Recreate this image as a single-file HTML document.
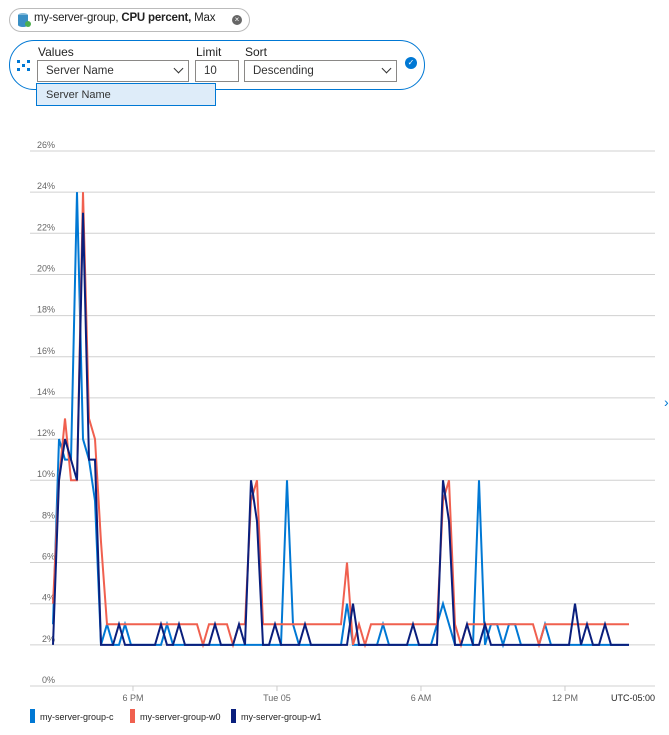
<!DOCTYPE html>
<html><head><meta charset="utf-8"><style>
body{margin:0;width:669px;height:735px;overflow:hidden;background:#fff;font-family:"Liberation Sans",sans-serif;position:relative}
.abs{position:absolute}
.lbl{font-size:12px;color:#222}
.box{position:absolute;border:1px solid #8a8886;background:#fff;font-size:11.5px;color:#333;box-sizing:border-box;line-height:21px;padding-left:8px}
.chev{position:absolute;right:6px;top:6px;width:6px;height:6px;border-right:1.3px solid #333;border-bottom:1.3px solid #333;transform:rotate(45deg);top:4px}
</style></head><body>
<div class="abs" style="left:9px;top:8px;width:241px;height:24px;border:1px solid #bbb;border-radius:13px;box-sizing:border-box"></div>
<svg class="abs" style="left:16px;top:12px" width="16" height="16"><ellipse cx="7" cy="3" rx="5" ry="2" fill="#7fb8d8"/><rect x="2" y="3" width="10" height="10" fill="#3a8fc4"/><ellipse cx="7" cy="13" rx="5" ry="2" fill="#3a8fc4"/><circle cx="12" cy="12" r="3" fill="#4caf50"/></svg>
<div class="abs" style="left:34px;top:12px;font-size:11.5px;color:#222;letter-spacing:-0.2px">my-server-group, <b>CPU percent,</b> Max</div>
<div class="abs" style="left:232px;top:15px;width:10px;height:10px;border-radius:50%;background:#666;color:#fff;font-size:8px;line-height:10px;text-align:center">×</div>

<div class="abs" style="left:9px;top:40px;width:416px;height:50px;border:1px solid #0078d4;border-radius:25px;box-sizing:border-box"></div>
<svg class="abs" style="left:16px;top:59px" width="16" height="14"><g fill="#0078d4"><rect x="1" y="1" width="3" height="3"/><rect x="6" y="5" width="3" height="3"/><rect x="11" y="1" width="3" height="3"/><rect x="1" y="9" width="3" height="3"/><rect x="11" y="9" width="3" height="3"/></g></svg>
<div class="abs lbl" style="left:38px;top:45px">Values</div>
<div class="box" style="left:37px;top:60px;width:152px;height:22px">Server Name<div class="chev"></div></div>
<div class="abs lbl" style="left:196px;top:45px">Limit</div>
<div class="box" style="left:195px;top:60px;width:44px;height:22px">10</div>
<div class="abs lbl" style="left:245px;top:45px">Sort</div>
<div class="box" style="left:244px;top:60px;width:153px;height:22px">Descending<div class="chev"></div></div>
<div class="abs" style="left:405px;top:57px;width:12px;height:12px;border-radius:50%;background:#0078d4;color:#fff;font-size:8px;line-height:12px;text-align:center">✓</div>
<div class="abs" style="left:36px;top:83px;width:180px;height:23px;background:#deecf9;border:1px solid #0078d4;box-sizing:border-box;font-size:11px;color:#333;line-height:22px;padding-left:9px">Server Name</div>
<div class="abs" style="left:664px;top:394px;color:#0078d4;font-size:14px">›</div>

<svg id="chart" class="abs" style="left:0;top:0" width="669" height="735"></svg>
<script>
const yTicks=[0,2,4,6,8,10,12,14,16,18,20,22,24,26];
const xTickLabels=["6 PM","Tue 05","6 AM","12 PM"];
const xTickIndex=[13.33,37.33,61.33,85.33];
const seriesNames=["my-server-group-c","my-server-group-w0","my-server-group-w1"];
const seriesC=[3,12,11,11,24,12,11,9,2,3,2,2,3,2,2,2,2,2,2,3,2,2,2,2,2,2,2,2,2,2,2,2,2,2,2,2,2,2,2,10,3,2,2,2,2,2,2,2,2,4,2,2,2,2,2,3,2,2,2,2,2,2,2,2,3,4,3,2,2,2,2,10,2,3,3,2,3,3,2,2,2,2,3,2,2,2,2,2,2,2,2,2,2,2,2,2,2];
const seriesW0=[4,10,13,10,10,24,13,12,7,3,3,3,3,3,3,3,3,3,3,3,3,3,3,3,3,2,3,3,3,3,2,3,3,9,10,3,3,3,3,3,3,3,3,3,3,3,3,3,3,6,2,3,2,3,3,3,3,3,3,3,3,3,3,3,3,9,10,3,2,3,3,3,3,3,3,3,3,3,3,3,3,2,3,3,3,3,3,3,3,3,3,3,3,3,3,3,3];
const seriesW1=[2,10,12,11,10,23,11,11,2,2,2,3,2,2,2,2,2,2,3,2,2,3,2,2,2,2,2,3,2,2,2,3,2,10,8,2,2,3,2,2,2,2,3,2,2,2,2,2,2,2,4,2,2,2,2,2,2,2,2,2,3,2,2,2,2,10,8,2,2,3,2,2,3,2,2,2,2,2,2,2,2,2,2,2,2,2,2,4,2,3,2,2,3,2,2,2,2];
const colors=["#0078d4","#f0604f","#0a1f7d"];
const NS="http://www.w3.org/2000/svg";
const svg=document.getElementById('chart');
const X0=30,X1=655,Y0=686,Y26=151;
const y=v=>Y0-(v/26)*(Y0-Y26);
const x=i=>53+i*6;
function mk(t,a){const e=document.createElementNS(NS,t);for(const k in a)e.setAttribute(k,a[k]);svg.appendChild(e);return e;}
yTicks.forEach(v=>{
  const g=mk('line',{x1:X0,x2:X1,y1:y(v),y2:y(v),stroke:'#d0d0d0','stroke-width':1});
  
  
  const t=mk('text',{x:55,y:y(v)-3,'text-anchor':'end','font-size':9,fill:'#666','font-family':'Liberation Sans, sans-serif'});
  t.textContent=v+'%';
  
  
});
xTickLabels.forEach((l,k)=>{
  const xx=x(xTickIndex[k]);
  const tk=mk('line',{x1:xx,x2:xx,y1:Y0,y2:Y0+5,stroke:'#ccc'});
  
  
  const t=mk('text',{x:xx,y:701,'text-anchor':'middle','font-size':9,fill:'#666','font-family':'Liberation Sans, sans-serif'});
  t.textContent=l;
  
  
});
const tz=mk('text',{x:655,y:701,'text-anchor':'end','font-size':9,fill:'#222','font-family':'Liberation Sans, sans-serif'});
tz.textContent='UTC-05:00';


[seriesC,seriesW0,seriesW1].forEach((s,k)=>{
  const p=mk('polyline',{points:s.map((v,i)=>x(i)+','+y(v)).join(' '),fill:'none',stroke:colors[k],'stroke-width':2,'stroke-linejoin':'miter'});
  
  
});
const legX=[30,130,231];
seriesNames.forEach((n,k)=>{
  const r=mk('rect',{x:legX[k],y:709,width:5,height:14,fill:colors[k]});
  
  
  const t=mk('text',{x:legX[k]+10,y:720,'font-size':9,fill:'#222','font-family':'Liberation Sans, sans-serif'});
  t.textContent=n;
  
  
});
</script>
</body></html>
